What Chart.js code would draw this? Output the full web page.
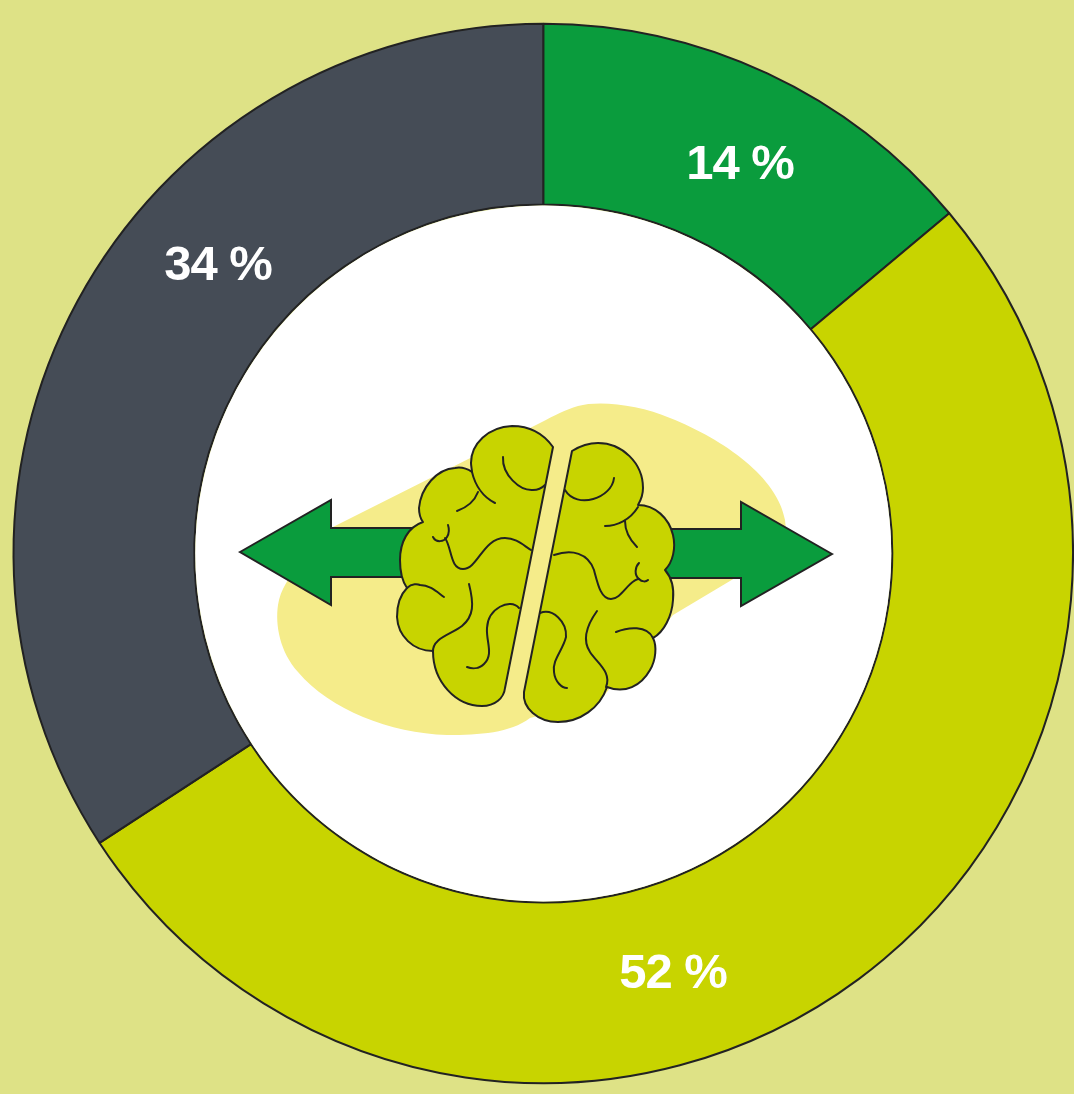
<!DOCTYPE html>
<html>
<head>
<meta charset="utf-8">
<style>html,body{margin:0;padding:0;background:#DEE286;overflow:hidden}canvas{display:block}</style>
<script src="https://cdn.jsdelivr.net/npm/chart.js@4"></script>
</head>
<body>
<canvas id="c" width="1074" height="1094"></canvas>
<script>
const segmentNames = ['Segment A', 'Segment B', 'Segment C'];
const segmentValues = [13.9, 51.9, 34.2];
const segmentLabels = ['14 %', '52 %', '34 %'];
const segmentColors = ['#0A9C3D', '#C8D400', '#454C56'];
const INK = '#222222';
const labelAnchors = [[740, 179], [673, 988], [218, 280]];

const blobPath = 'M333 527 L540 423 C555 415 565 410 578 406 C600 400 640 405 670 418 C725 440 778 478 785 520 L786 530 L740 575 L673 615 L600 700 L530 718 C510 733 480 735 447 735 C390 733 330 710 298 672 C280 652 275 625 278 605 C280 590 290 575 300 565 Z';
const arrowPaths = [
  'M240 552 L331 500 L331 528 L420 528 L420 577 L331 577 L331 605 Z',
  'M832 554 L741 502 L741 529 L660 529 L660 578 L741 578 L741 606 Z'
];
const brainOutlines = [
  'M553 447 C543 433 528 426 512 426 C488 427 471 444 471 463 C471 466 472 470 472 472 C466 468 460 467 455 468 C437 469 421 487 419 508 C419 513 420 518 423 522 C408 527 400 542 400 560 C400 572 402 581 407 588 C400 595 397 605 397 617 C398 636 413 651 433 651 C433 682 456 706 482 706 C495 706 504 698 505 688 L553 447 Z',
  'M572 451 C580 446 589 443 598 443 C622 443 643 463 643 488 C643 495 641 500 638 505 C655 505 669 518 673 535 C676 548 673 562 665 570 C672 578 674 590 673 600 C672 616 664 632 653 638 C657 646 656 660 650 670 C641 686 625 694 607 687 C600 708 580 722 558 722 C538 722 522 708 524 692 L572 451 Z'
];
const brainFolds = [
  'M503 457 C502 475 520 491 533 490 C538 490 542 488 545 485',
  'M472 472 C475 485 483 497 495 503',
  'M478 492 C475 500 468 507 457 511',
  'M433 537 C436 543 444 542 447 537 C450 532 449 528 448 525',
  'M445 538 C452 548 450 569 463 569 C478 569 483 538 505 538 C516 538 523 545 531 550',
  'M407 588 C412 583 418 584 420 585 C430 585 437 592 444 597',
  'M469 584 C474 604 474 616 462 626 C452 634 432 638 433 652',
  'M519 608 C510 598 488 608 487 628 C486 642 494 654 484 664 C479 669 472 669 467 667',
  'M614 478 C612 498 577 510 565 490',
  'M638 507 C630 520 617 526 605 526',
  'M625 521 C625 530 630 540 637 547',
  'M639 563 C635 567 634 575 639 579 C642 582 646 582 648 580',
  'M554 555 C572 549 588 553 594 570 C598 585 601 599 611 599 C620 599 626 586 634 581 C636 580 637 579 639 579',
  'M540 613 C553 608 567 622 566 637 C563 650 552 660 554 672 C555 682 562 688 567 688',
  'M597 611 C587 625 582 640 590 652 C597 663 612 672 606 687',
  'M616 632 C628 627 647 625 653 638'
];

const illustration = {
  id: 'illustration',
  beforeDraw(chart) {
    const ctx = chart.ctx;
    ctx.save();
    ctx.fillStyle = '#DEE286';
    ctx.fillRect(0, 0, chart.width, chart.height);
    ctx.restore();
  },
  afterDatasetsDraw(chart) {
    const ctx = chart.ctx;
    const arc = chart.getDatasetMeta(0).data[0];
    ctx.save();
    ctx.beginPath();
    ctx.arc(arc.x, arc.y, arc.innerRadius - 1, 0, Math.PI * 2);
    ctx.fillStyle = '#FFFFFF';
    ctx.fill();
    ctx.fillStyle = '#F5EC8A';
    ctx.fill(new Path2D(blobPath));
    ctx.lineWidth = 2;
    ctx.strokeStyle = INK;
    ctx.lineJoin = 'miter';
    ctx.fillStyle = '#0A9C3D';
    arrowPaths.forEach(p => { const q = new Path2D(p); ctx.fill(q); ctx.stroke(q); });
    ctx.fillStyle = '#C8D400';
    ctx.lineCap = 'round';
    ctx.lineJoin = 'round';
    brainOutlines.forEach(p => { const q = new Path2D(p); ctx.fill(q); ctx.stroke(q); });
    brainFolds.forEach(p => ctx.stroke(new Path2D(p)));
    ctx.fillStyle = '#FFFFFF';
    ctx.font = 'bold 49px "Liberation Sans", Arial, sans-serif';
    ctx.letterSpacing = '-1px';
    ctx.textAlign = 'center';
    ctx.textBaseline = 'alphabetic';
    segmentLabels.forEach((t, i) => ctx.fillText(t, labelAnchors[i][0], labelAnchors[i][1]));
    ctx.restore();
  }
};

new Chart(document.getElementById('c'), {
  type: 'doughnut',
  data: {
    labels: segmentNames,
    datasets: [{
      data: segmentValues,
      backgroundColor: segmentColors,
      borderColor: INK,
      borderWidth: 2,
      borderAlign: 'center'
    }]
  },
  options: {
    responsive: false,
    animation: false,
    cutout: 349,
    rotation: 0,
    layout: { padding: { left: 12.5, right: -6.5, top: 19.5, bottom: 6.5 } },
    plugins: { legend: { display: false }, tooltip: { enabled: false } }
  },
  plugins: [illustration]
});
</script>
</body>
</html>
